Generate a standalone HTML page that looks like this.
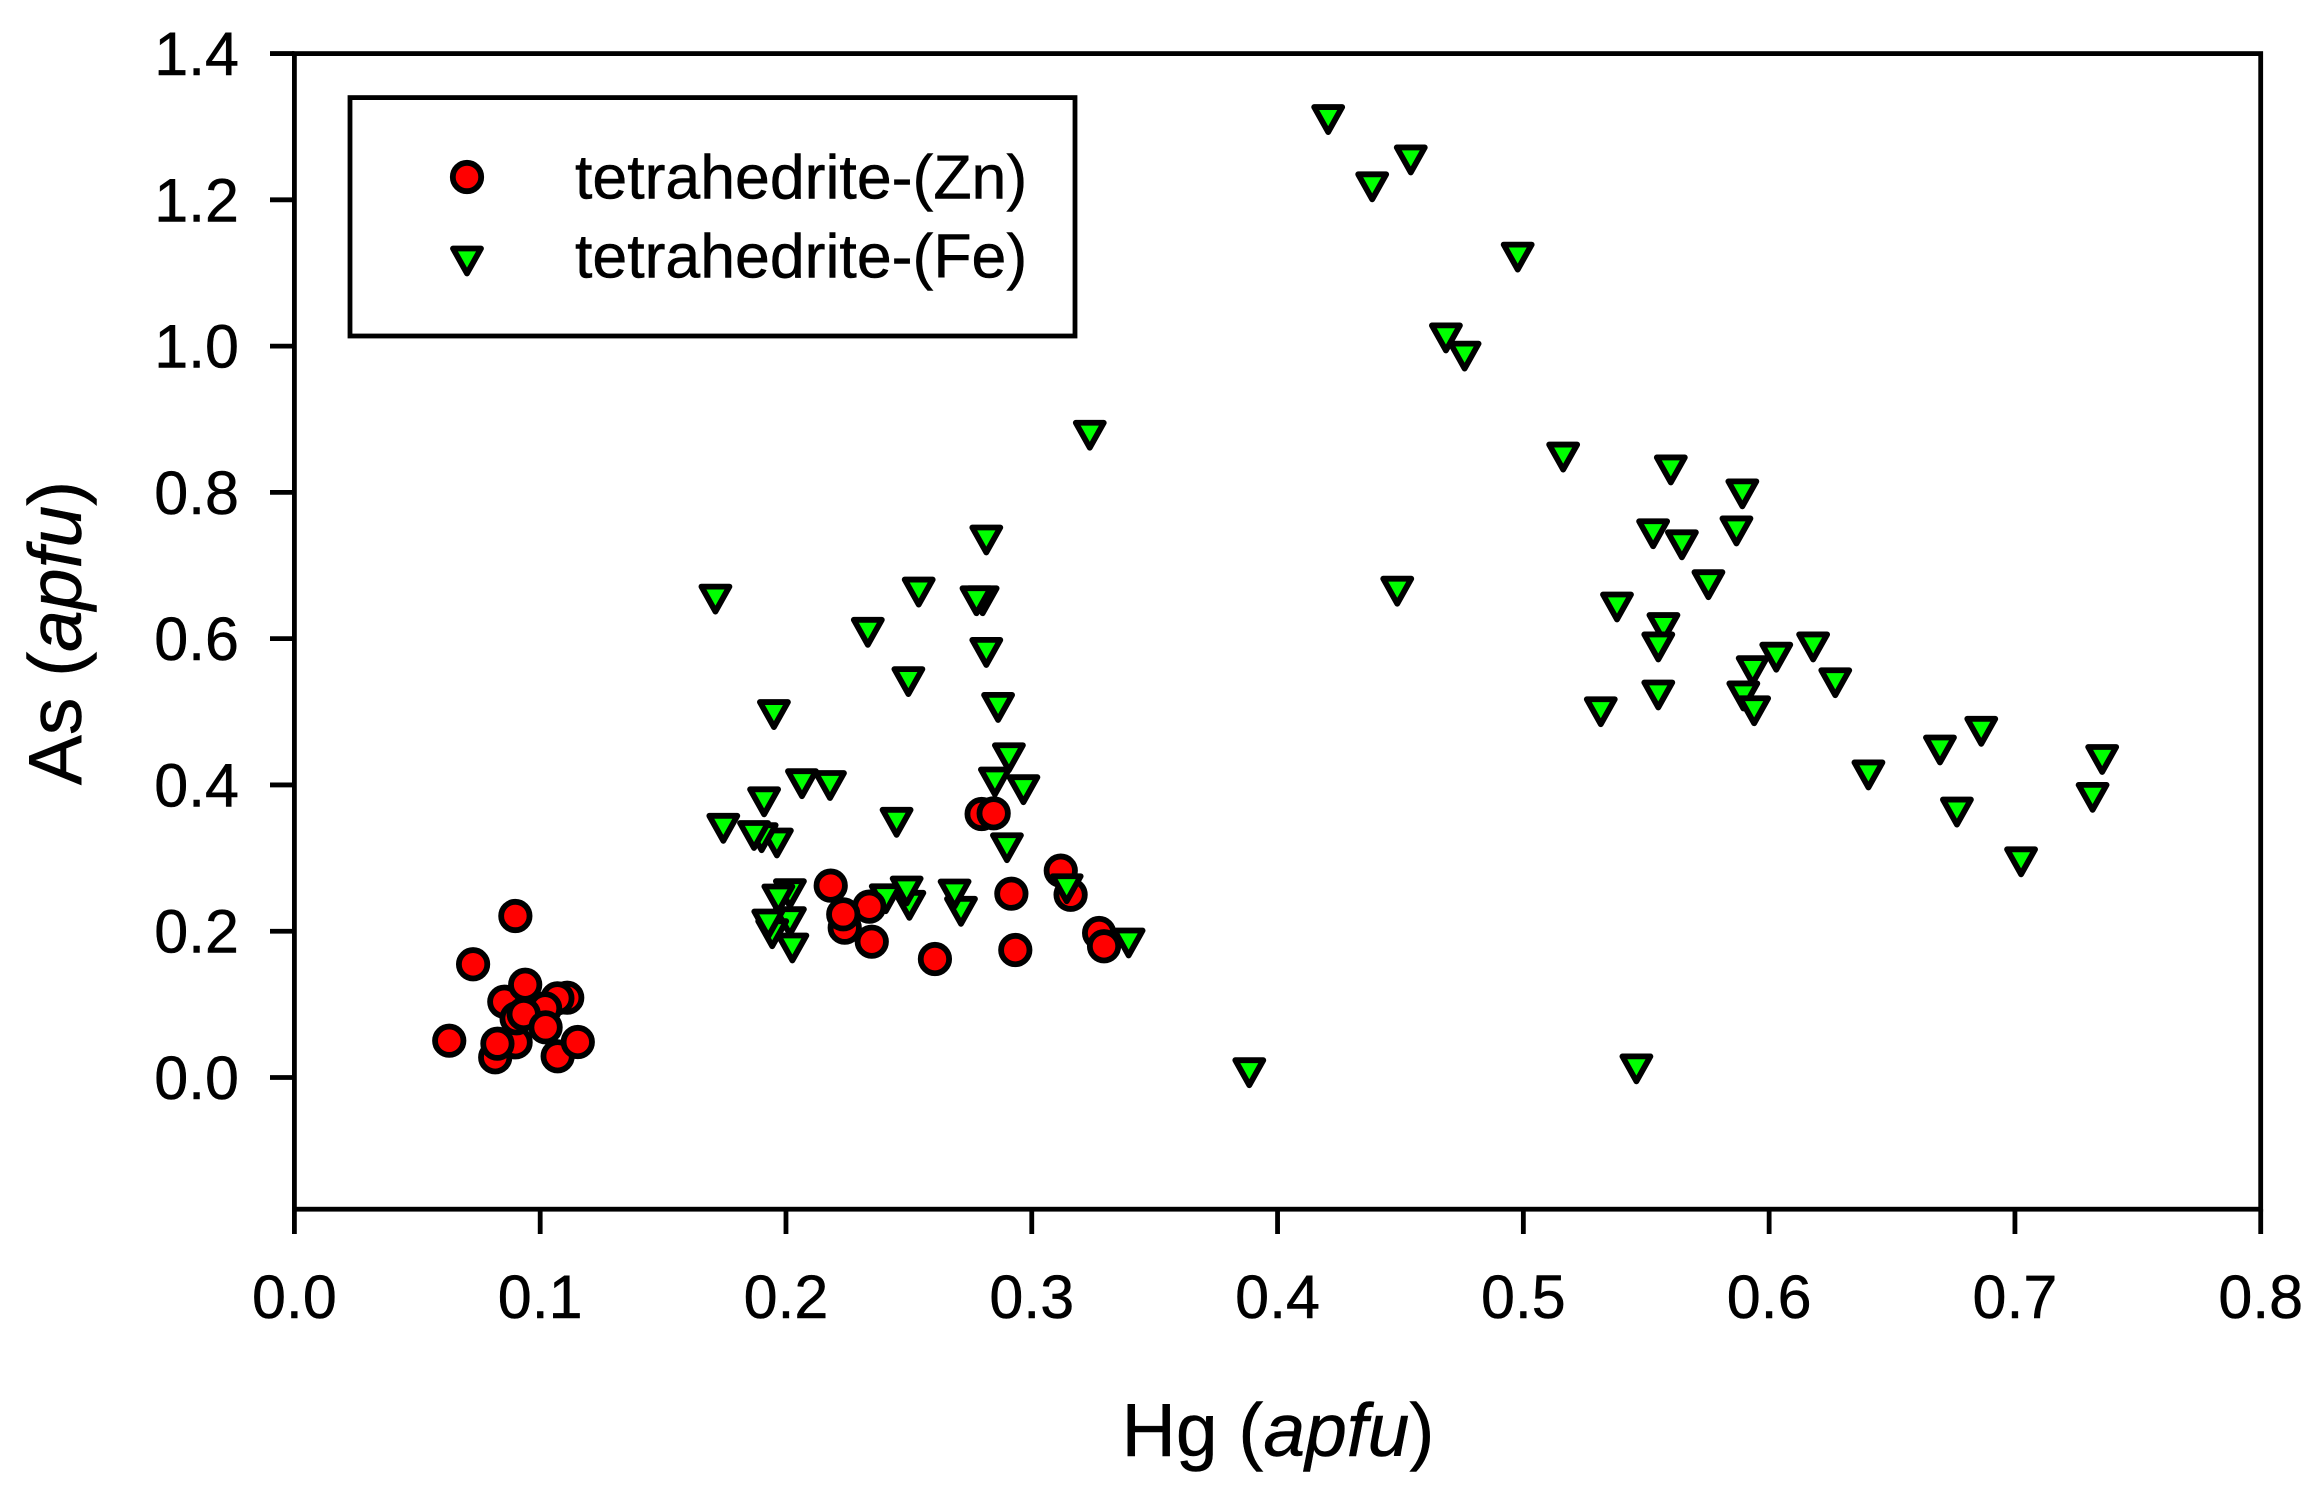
<!DOCTYPE html>
<html lang="en">
<head>
<meta charset="utf-8">
<title>Hg vs As scatter plot</title>
<style>
  html, body { margin: 0; padding: 0; background: #fff; }
  svg { display: block; font-family: "Liberation Sans", Arial, sans-serif; fill: #000; }
  text { stroke: #000; stroke-width: 0.5px; }
</style>
</head>
<body>
<svg id="chart" xmlns="http://www.w3.org/2000/svg" width="2316" height="1493" viewBox="0 0 2316 1493">
  <rect x="0" y="0" width="2316" height="1493" fill="#fff"/>
  <g id="ticks"></g>
  <g id="tick-labels"></g>
  <g id="marks"></g>
  <rect x="294.4" y="53.6" width="1966.3" height="1155.6" fill="none" stroke="#000" stroke-width="4.8"/>

  <text x="1278" y="1456" font-size="75" text-anchor="middle">Hg (<tspan font-style="italic">apfu</tspan>)</text>
  <text transform="translate(81 633) rotate(-90)" font-size="75" text-anchor="middle">As (<tspan font-style="italic">apfu</tspan>)</text>

  <g>
    <rect x="350" y="97.6" width="725" height="238.4" fill="#fff" stroke="#000" stroke-width="4.8"/>
    <circle cx="467" cy="177" r="14.2" fill="#ff0000" stroke="#000" stroke-width="5.8"/>
    <path d="M453 248.5 L481 248.5 L467 273.5 Z" fill="#00ff00" stroke="#000" stroke-width="5.8" stroke-linejoin="round"/>
    <text x="575" y="198.6" font-size="62.6">tetrahedrite-(Zn)</text>
    <text x="575" y="277.5" font-size="62.6">tetrahedrite-(Fe)</text>
  </g>
</svg>
<script>
const xTickValues = [0.0, 0.1, 0.2, 0.3, 0.4, 0.5, 0.6, 0.7, 0.8];
const xTickLabels = ["0.0", "0.1", "0.2", "0.3", "0.4", "0.5", "0.6", "0.7", "0.8"];
const yTickValues = [0.0, 0.2, 0.4, 0.6, 0.8, 1.0, 1.2, 1.4];
const yTickLabels = ["0.0", "0.2", "0.4", "0.6", "0.8", "1.0", "1.2", "1.4"];

const feHg = [0.4206, 0.4542, 0.4385, 0.4977, 0.4685, 0.4761, 0.5162, 0.5600, 0.5891, 0.5528, 0.5867, 0.5645, 0.5753, 0.4487, 0.5381, 0.5570, 0.5549, 0.6179, 0.6029, 0.5933, 0.6269, 0.5549, 0.5895, 0.5939, 0.5315, 0.6863, 0.6695, 0.7355, 0.6404, 0.6764, 0.7316, 0.7025, 0.3885, 0.5460, 0.3236, 0.2815, 0.1713, 0.2540, 0.2800, 0.2775, 0.2333, 0.2815, 0.2498, 0.2863, 0.1951, 0.2907, 0.2966, 0.2850, 0.2065, 0.2179, 0.1911, 0.2450, 0.1745, 0.1963, 0.1901, 0.1870, 0.2899, 0.2016, 0.1969, 0.2502, 0.2406, 0.2491, 0.2712, 0.2686, 0.2016, 0.1944, 0.1928, 0.2026, 0.3394];
const feAs = [1.3097, 1.2545, 1.2178, 1.1217, 1.0112, 0.9863, 0.8483, 0.8307, 0.7980, 0.7434, 0.7473, 0.7283, 0.6738, 0.6649, 0.6433, 0.6152, 0.5887, 0.5887, 0.5747, 0.5563, 0.5397, 0.5230, 0.5217, 0.5014, 0.5001, 0.4733, 0.4478, 0.4348, 0.4137, 0.3629, 0.3830, 0.2949, 0.0066, 0.0118, 0.8781, 0.7349, 0.6541, 0.6637, 0.6518, 0.6518, 0.6087, 0.5812, 0.5413, 0.5060, 0.4962, 0.4372, 0.3935, 0.4040, 0.4017, 0.3992, 0.3769, 0.3489, 0.3407, 0.3206, 0.3279, 0.3309, 0.3141, 0.2513, 0.2441, 0.2354, 0.2444, 0.2550, 0.2272, 0.2509, 0.2130, 0.1966, 0.2099, 0.1771, 0.1839];

const znHg = [0.0899, 0.0727, 0.0630, 0.0817, 0.0900, 0.0826, 0.1071, 0.1153, 0.1110, 0.1070, 0.1020, 0.0854, 0.0939, 0.0904, 0.0933, 0.1022, 0.2182, 0.2239, 0.2339, 0.2233, 0.2349, 0.2606, 0.2917, 0.2933, 0.2796, 0.2845, 0.3118, 0.3158, 0.3274, 0.3294];
const znAs = [0.2208, 0.1548, 0.0503, 0.0276, 0.0481, 0.0462, 0.0290, 0.0485, 0.1091, 0.1083, 0.0946, 0.1036, 0.1269, 0.0809, 0.0868, 0.0686, 0.2623, 0.2048, 0.2336, 0.2231, 0.1857, 0.1620, 0.2513, 0.1743, 0.3603, 0.3612, 0.2828, 0.2499, 0.1976, 0.1794];

const feTopHg = [0.3142];
const feTopAs = [0.2581];

const SVG_NS = "http://www.w3.org/2000/svg";
const xScale = function (v) { return 294.4 + v * 2457.9; };
const yScale = function (v) { return 1077.5 - v * 731.4; };

const ticksGroup = document.getElementById("ticks");
const labelsGroup = document.getElementById("tick-labels");
const marksGroup = document.getElementById("marks");

function makeLine(x1, y1, x2, y2) {
  const line = document.createElementNS(SVG_NS, "line");
  line.setAttribute("x1", x1);
  line.setAttribute("y1", y1);
  line.setAttribute("x2", x2);
  line.setAttribute("y2", y2);
  line.setAttribute("stroke", "#000");
  line.setAttribute("stroke-width", "4.8");
  return line;
}

xTickValues.forEach(function (v, i) {
  const px = xScale(v);
  const tick = makeLine(px, 1209.2, px, 1234);
  
  
  ticksGroup.appendChild(tick);
  const label = document.createElementNS(SVG_NS, "text");
  
  
  label.setAttribute("x", px);
  label.setAttribute("y", 1318);
  label.setAttribute("font-size", "61");
  label.setAttribute("text-anchor", "middle");
  label.textContent = xTickLabels[i];
  labelsGroup.appendChild(label);
});

yTickValues.forEach(function (v, i) {
  const py = yScale(v);
  const tick = makeLine(270, py, 294.4, py);
  
  
  ticksGroup.appendChild(tick);
  const label = document.createElementNS(SVG_NS, "text");
  
  
  label.setAttribute("x", 239);
  label.setAttribute("y", py + 21.5);
  label.setAttribute("font-size", "61");
  label.setAttribute("text-anchor", "end");
  label.textContent = yTickLabels[i];
  labelsGroup.appendChild(label);
});

function drawTriangle(hg, as) {
  const cx = xScale(hg);
  const cy = yScale(as);
  const tri = document.createElementNS(SVG_NS, "path");
  
  
  tri.setAttribute("d", "M" + (cx - 14) + " " + (cy - 12.5) + " L" + (cx + 14) + " " + (cy - 12.5) + " L" + cx + " " + (cy + 12.5) + " Z");
  tri.setAttribute("fill", "#00ff00");
  tri.setAttribute("stroke", "#000");
  tri.setAttribute("stroke-width", "5.8");
  tri.setAttribute("stroke-linejoin", "round");
  marksGroup.appendChild(tri);
}

function drawCircle(hg, as) {
  const dot = document.createElementNS(SVG_NS, "circle");
  
  
  dot.setAttribute("cx", xScale(hg));
  dot.setAttribute("cy", yScale(as));
  dot.setAttribute("r", "14.2");
  dot.setAttribute("fill", "#ff0000");
  dot.setAttribute("stroke", "#000");
  dot.setAttribute("stroke-width", "5.8");
  marksGroup.appendChild(dot);
}

feHg.forEach(function (v, i) { drawTriangle(v, feAs[i]); });
znHg.forEach(function (v, i) { drawCircle(v, znAs[i]); });
feTopHg.forEach(function (v, i) { drawTriangle(v, feTopAs[i]); });
</script>
</body>
</html>
